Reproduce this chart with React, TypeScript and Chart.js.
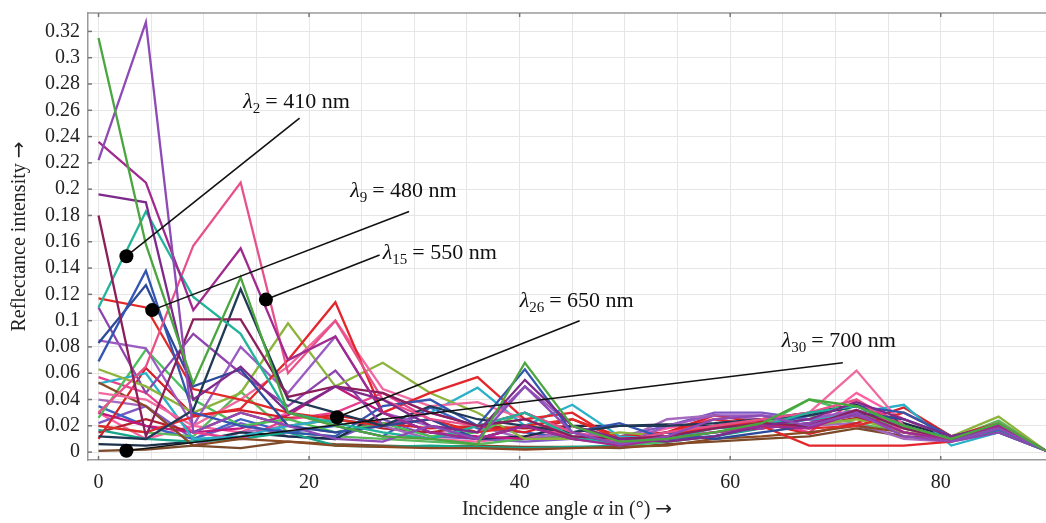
import React, { useEffect, useRef } from 'react';
import { Chart, registerables } from 'chart.js';

Chart.register(...registerables);

const FONT = '"Liberation Serif", "DejaVu Serif", serif';
const ARROW_FONT = '"DejaVu Sans", sans-serif';

// Incidence angles (degrees)
const angles = [0, 4.5, 9, 13.5, 18, 22.5, 27, 31.5, 36, 40.5, 45, 49.5, 54, 58.5, 63, 67.5, 72, 76.5, 81, 85.5, 90];

// Tick / grid values
const xGridTicks = [0, 5, 10, 15, 20, 25, 30, 35, 40, 45, 50, 55, 60, 65, 70, 75, 80, 85, 90];
const xLabelTicks = [0, 20, 40, 60, 80];
const yTicks = [0, 0.02, 0.04, 0.06, 0.08, 0.1, 0.12, 0.14, 0.16, 0.18, 0.2, 0.22, 0.24, 0.26, 0.28, 0.3, 0.32];

// Reflectance intensity per wavelength (one array per spectral line)
const L01 = [0.315, 0.158, 0.052, 0.133, 0.03, 0.02, 0.012, 0.01, 0.006, 0.068, 0.02, 0.008, 0.01, 0.015, 0.022, 0.04, 0.035, 0.02, 0.01, 0.022, 0.001];
const L02 = [0.222, 0.327, 0.015, 0.03, 0.02, 0.01, 0.008, 0.02, 0.01, 0.05, 0.015, 0.006, 0.012, 0.025, 0.028, 0.02, 0.03, 0.012, 0.008, 0.018, 0.001];
const L03 = [0.236, 0.205, 0.108, 0.155, 0.07, 0.088, 0.03, 0.015, 0.01, 0.02, 0.01, 0.005, 0.01, 0.015, 0.02, 0.018, 0.03, 0.015, 0.01, 0.02, 0.001];
const L04 = [0.196, 0.19, 0.04, 0.065, 0.03, 0.05, 0.04, 0.02, 0.015, 0.055, 0.02, 0.01, 0.008, 0.012, 0.02, 0.025, 0.038, 0.025, 0.012, 0.02, 0.001];
const L05 = [0.18, 0.012, 0.101, 0.101, 0.042, 0.05, 0.045, 0.03, 0.02, 0.025, 0.012, 0.01, 0.012, 0.018, 0.022, 0.02, 0.032, 0.018, 0.01, 0.021, 0.001];
const L06 = [0.11, 0.183, 0.118, 0.09, 0.03, 0.022, 0.015, 0.01, 0.02, 0.03, 0.012, 0.005, 0.01, 0.018, 0.02, 0.03, 0.035, 0.02, 0.01, 0.018, 0.001];
const L07 = [0.03, 0.065, 0.157, 0.205, 0.06, 0.1, 0.04, 0.025, 0.02, 0.03, 0.015, 0.008, 0.015, 0.02, 0.025, 0.03, 0.04, 0.015, 0.01, 0.02, 0.001];
const L08 = [0.012, 0.01, 0.032, 0.124, 0.04, 0.03, 0.02, 0.035, 0.025, 0.02, 0.015, 0.02, 0.02, 0.022, 0.025, 0.028, 0.035, 0.02, 0.01, 0.018, 0.001];
const L09 = [0.069, 0.138, 0.03, 0.02, 0.015, 0.012, 0.035, 0.04, 0.02, 0.063, 0.015, 0.022, 0.01, 0.012, 0.02, 0.028, 0.035, 0.03, 0.012, 0.02, 0.001];
const L10 = [0.083, 0.127, 0.05, 0.063, 0.02, 0.015, 0.02, 0.025, 0.01, 0.02, 0.01, 0.008, 0.015, 0.01, 0.015, 0.02, 0.03, 0.025, 0.012, 0.018, 0.001];
const L11 = [0.117, 0.11, 0.048, 0.04, 0.03, 0.025, 0.02, 0.025, 0.015, 0.02, 0.025, 0.01, 0.012, 0.02, 0.022, 0.018, 0.02, 0.03, 0.012, 0.02, 0.001];
const L12 = [0.02, 0.015, 0.027, 0.033, 0.07, 0.114, 0.03, 0.045, 0.057, 0.025, 0.03, 0.008, 0.015, 0.025, 0.02, 0.005, 0.005, 0.005, 0.008, 0.02, 0.001];
const L13 = [0.045, 0.04, 0.02, 0.04, 0.065, 0.1, 0.048, 0.035, 0.038, 0.025, 0.012, 0.01, 0.012, 0.015, 0.02, 0.03, 0.062, 0.02, 0.01, 0.022, 0.001];
const L14 = [0.085, 0.079, 0.02, 0.08, 0.045, 0.088, 0.03, 0.02, 0.015, 0.05, 0.02, 0.005, 0.02, 0.028, 0.028, 0.025, 0.032, 0.02, 0.01, 0.02, 0.001];
const L15 = [0.063, 0.05, 0.03, 0.045, 0.098, 0.05, 0.068, 0.045, 0.03, 0.01, 0.01, 0.015, 0.012, 0.02, 0.022, 0.02, 0.025, 0.015, 0.012, 0.027, 0.001];
const L16 = [0.11, 0.045, 0.09, 0.06, 0.035, 0.062, 0.02, 0.03, 0.02, 0.03, 0.015, 0.008, 0.015, 0.02, 0.018, 0.022, 0.028, 0.015, 0.008, 0.015, 0.001];
const L17 = [0.053, 0.035, 0.005, 0.01, 0.008, 0.005, 0.004, 0.003, 0.003, 0.002, 0.003, 0.004, 0.005, 0.01, 0.012, 0.015, 0.02, 0.015, 0.01, 0.02, 0.001];
const L18 = [0.052, 0.06, 0.01, 0.012, 0.02, 0.025, 0.02, 0.03, 0.049, 0.02, 0.036, 0.012, 0.01, 0.012, 0.02, 0.025, 0.03, 0.036, 0.005, 0.015, 0.001];
const L19 = [0.026, 0.078, 0.04, 0.02, 0.025, 0.015, 0.022, 0.012, 0.015, 0.03, 0.012, 0.005, 0.008, 0.012, 0.02, 0.04, 0.03, 0.018, 0.01, 0.02, 0.001];
const L20 = [0.057, 0.045, 0.015, 0.01, 0.025, 0.03, 0.045, 0.025, 0.01, 0.02, 0.012, 0.01, 0.012, 0.02, 0.025, 0.015, 0.04, 0.02, 0.01, 0.02, 0.001];
const L21 = [0.01, 0.064, 0.028, 0.032, 0.026, 0.028, 0.022, 0.018, 0.02, 0.015, 0.025, 0.012, 0.015, 0.028, 0.022, 0.014, 0.022, 0.034, 0.012, 0.022, 0.001];
const L22 = [0.03, 0.02, 0.015, 0.018, 0.028, 0.05, 0.03, 0.015, 0.012, 0.01, 0.01, 0.008, 0.012, 0.015, 0.018, 0.022, 0.03, 0.02, 0.01, 0.02, 0.001];
const L23 = [0.017, 0.01, 0.008, 0.01, 0.015, 0.005, 0.004, 0.005, 0.004, 0.003, 0.004, 0.005, 0.008, 0.012, 0.018, 0.025, 0.028, 0.02, 0.01, 0.015, 0.001];
const L24 = [0.006, 0.005, 0.008, 0.015, 0.012, 0.01, 0.03, 0.015, 0.01, 0.012, 0.02, 0.02, 0.021, 0.02, 0.025, 0.03, 0.036, 0.022, 0.011, 0.02, 0.001];
const L25 = [0.04, 0.035, 0.005, 0.015, 0.02, 0.015, 0.02, 0.01, 0.02, 0.01, 0.015, 0.008, 0.025, 0.028, 0.025, 0.02, 0.022, 0.01, 0.008, 0.015, 0.001];
const L26 = [0.02, 0.015, 0.012, 0.046, 0.015, 0.012, 0.01, 0.008, 0.006, 0.01, 0.012, 0.01, 0.015, 0.02, 0.02, 0.028, 0.022, 0.015, 0.01, 0.024, 0.001];
const L27 = [0.015, 0.025, 0.015, 0.03, 0.02, 0.025, 0.018, 0.015, 0.02, 0.018, 0.02, 0.01, 0.012, 0.018, 0.024, 0.02, 0.026, 0.02, 0.009, 0.021, 0.001];
const L28 = [0.035, 0.02, 0.01, 0.025, 0.015, 0.02, 0.012, 0.034, 0.018, 0.015, 0.01, 0.006, 0.01, 0.015, 0.018, 0.022, 0.028, 0.018, 0.01, 0.017, 0.001];
const L29 = [0.001, 0.002, 0.005, 0.003, 0.008, 0.006, 0.005, 0.004, 0.005, 0.004, 0.004, 0.003, 0.006, 0.008, 0.01, 0.012, 0.018, 0.012, 0.01, 0.016, 0.001];
const L30 = [0.022, 0.035, 0.01, 0.022, 0.012, 0.01, 0.025, 0.012, 0.01, 0.008, 0.01, 0.012, 0.02, 0.03, 0.03, 0.025, 0.02, 0.012, 0.01, 0.019, 0.001];
const L31 = [0.03, 0.01, 0.02, 0.015, 0.03, 0.02, 0.012, 0.01, 0.008, 0.012, 0.015, 0.01, 0.018, 0.025, 0.02, 0.018, 0.045, 0.025, 0.01, 0.02, 0.001];

const seriesValues = [L01, L02, L03, L04, L05, L06, L07, L08, L09, L10, L11, L12, L13, L14, L15, L16,
  L17, L18, L19, L20, L21, L22, L23, L24, L25, L26, L27, L28, L29, L30, L31];

const seriesColors = [
  '#4aa63e', '#8e4bb5', '#a02a8f', '#7d2a8a', '#8a1f5c', '#22b39a', '#e8508a', '#203a55',
  '#3456b0', '#2c4a9a', '#e02a2a', '#e3262b', '#f06aa0', '#9a5cc0', '#8cb43c', '#8e44ad',
  '#8b4a23', '#2ab0c8', '#4bbf5a', '#e83e8c', '#d61f26', '#c2187d', '#17a589', '#1c2f4a',
  '#a569bd', '#5cb85c', '#b0202a', '#3b63c4', '#7a4a2a', '#7e57c2', '#ff5fa2',
];

// Annotation callouts (data coordinates)
const calloutSubs = ['2', '9', '15', '26', '30'];
const calloutTexts = ['410 nm', '480 nm', '550 nm', '650 nm', '700 nm'];
const calloutDots = [[2.65, 0.149], [5.1, 0.108], [15.9, 0.116], [22.65, 0.0265], [2.65, 0.001]];
const calloutEnds = [[19.1, 0.254], [29.5, 0.183], [26.7, 0.15], [45.7, 0.1], [70.7, 0.068]];
const calloutLabels = [[13.75, 0.262], [23.9, 0.194], [27.0, 0.147], [40.0, 0.11], [64.9, 0.08]];

function drawParts(ctx: any, parts: [string, string][], x: number, y: number) {
  let tx = x;
  parts.forEach(([t, f]) => {
    ctx.font = f;
    ctx.fillText(t, tx, y);
    tx += ctx.measureText(t).width;
  });
}
function partsWidth(ctx: any, parts: [string, string][]) {
  let w = 0;
  parts.forEach(([t, f]) => { ctx.font = f; w += ctx.measureText(t).width; });
  return w;
}

const decorPlugin = {
  id: 'decor',
  afterDraw(chart: any) {
    const { ctx, chartArea, scales } = chart;
    const xs = scales.x;
    const ys = scales.y;
    ctx.save();
    // top frame line
    ctx.strokeStyle = '#9a9a9a';
    ctx.lineWidth = 1.5;
    ctx.beginPath();
    ctx.moveTo(chartArea.left, chartArea.top);
    ctx.lineTo(chartArea.right, chartArea.top);
    ctx.stroke();
    // inner tick marks
    ctx.strokeStyle = '#777';
    ctx.lineWidth = 1.5;
    xLabelTicks.forEach((v) => {
      const px = xs.getPixelForValue(v);
      ctx.beginPath();
      ctx.moveTo(px, chartArea.bottom);
      ctx.lineTo(px, chartArea.bottom - 4);
      ctx.moveTo(px, chartArea.top);
      ctx.lineTo(px, chartArea.top + 4);
      ctx.stroke();
    });
    yTicks.forEach((v) => {
      const py = ys.getPixelForValue(v);
      ctx.beginPath();
      ctx.moveTo(chartArea.left, py);
      ctx.lineTo(chartArea.left + 4, py);
      ctx.stroke();
    });

    // callouts
    calloutDots.forEach((d, i) => {
      const dx = xs.getPixelForValue(d[0]);
      const dy = ys.getPixelForValue(d[1]);
      const ex = xs.getPixelForValue(calloutEnds[i][0]);
      const ey = ys.getPixelForValue(calloutEnds[i][1]);
      ctx.strokeStyle = '#111';
      ctx.lineWidth = 1.6;
      ctx.beginPath();
      ctx.moveTo(dx, dy);
      ctx.lineTo(ex, ey);
      ctx.stroke();
      ctx.fillStyle = '#000';
      ctx.beginPath();
      ctx.arc(dx, dy, 7, 0, Math.PI * 2);
      ctx.fill();

      const lx = xs.getPixelForValue(calloutLabels[i][0]);
      const ly = ys.getPixelForValue(calloutLabels[i][1]);
      ctx.fillStyle = '#111';
      ctx.textBaseline = 'alphabetic';
      ctx.textAlign = 'left';
      let x = lx;
      ctx.font = `italic 22px ${FONT}`;
      ctx.fillText('λ', x, ly);
      x += ctx.measureText('λ').width;
      ctx.font = `15px ${FONT}`;
      ctx.fillText(calloutSubs[i], x, ly + 5);
      x += ctx.measureText(calloutSubs[i]).width + 5;
      ctx.font = `22px ${FONT}`;
      ctx.fillText('= ' + calloutTexts[i], x, ly);
    });

    ctx.fillStyle = '#222';
    ctx.textBaseline = 'middle';
    ctx.textAlign = 'left';
    // x-axis title with italic alpha
    const xParts: [string, string][] = [
      ['Incidence angle ', `20px ${FONT}`],
      ['α', `italic 20px ${FONT}`],
      [' in (°) ', `20px ${FONT}`],
      ['→', `20px ${ARROW_FONT}`],
    ];
    const xw = partsWidth(ctx, xParts);
    drawParts(ctx, xParts, (chartArea.left + chartArea.right) / 2 - xw / 2, 510);

    // y-axis title
    const yParts: [string, string][] = [
      ['Reflectance intensity ', `20px ${FONT}`],
      ['→', `20px ${ARROW_FONT}`],
    ];
    const yw = partsWidth(ctx, yParts);
    ctx.translate(20, (chartArea.top + chartArea.bottom) / 2);
    ctx.rotate(-Math.PI / 2);
    drawParts(ctx, yParts, -yw / 2, 0);
    ctx.restore();
  },
};

export default function App() {
  const canvasRef = useRef<HTMLCanvasElement | null>(null);

  useEffect(() => {
    const canvas = canvasRef.current;
    if (!canvas) return;
    const datasets = seriesValues.map((vals, i) => ({
      label: `L${i + 1}`,
      data: vals.map((v, j) => ({ x: angles[j], y: v })),
      borderColor: seriesColors[i],
      backgroundColor: seriesColors[i],
      borderWidth: 2.3,
      pointRadius: 0,
      tension: 0,
      fill: false,
    }));

    const chart = new Chart(canvas, {
      type: 'line',
      data: { datasets },
      options: {
        animation: false,
        responsive: false,
        devicePixelRatio: 1,
        layout: { padding: { top: 13, right: 0, bottom: 0, left: 0 } },
        plugins: {
          legend: { display: false },
          tooltip: { enabled: false },
        },
        scales: {
          x: {
            type: 'linear',
            min: -1,
            max: 90,
            afterBuildTicks: (s: any) => { s.ticks = xGridTicks.map((v) => ({ value: v })); },
            afterFit: (s: any) => { s.height = 63; s.paddingLeft = 0; s.paddingRight = 0; },
            grid: { color: '#e6e6e6', lineWidth: 1, drawTicks: false },
            border: { display: true, color: '#9a9a9a', width: 1.5 },
            ticks: {
              padding: 11,
              color: '#222',
              autoSkip: false,
              maxRotation: 0,
              font: { family: FONT, size: 20 },
              callback: (v: any) => (xLabelTicks.includes(Number(v)) ? String(v) : ''),
            },
          },
          y: {
            type: 'linear',
            min: -0.006,
            max: 0.334,
            afterBuildTicks: (s: any) => { s.ticks = yTicks.map((v) => ({ value: v })); },
            afterFit: (s: any) => { s.width = 88; s.paddingTop = 0; s.paddingBottom = 0; },
            grid: { color: '#e6e6e6', lineWidth: 1, drawTicks: false },
            border: { display: true, color: '#9a9a9a', width: 1.5 },
            ticks: {
              padding: 8,
              color: '#222',
              autoSkip: false,
              font: { family: FONT, size: 20 },
              callback: (v: any) => String(Number(Number(v).toFixed(2))),
            },
          },
        },
      },
      plugins: [decorPlugin],
    });
    return () => chart.destroy();
  }, []);

  return (
    <div style={{ position: 'fixed', left: 0, top: 0, width: 1046, height: 523, background: '#fff' }}>
      <canvas ref={canvasRef} width={1046} height={523} />
    </div>
  );
}
